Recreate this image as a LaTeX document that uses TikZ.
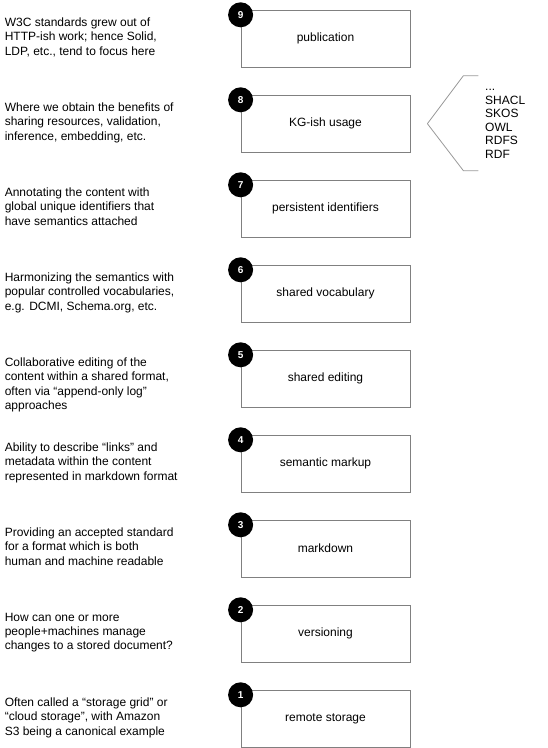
\documentclass[tikz,border=0pt]{standalone}
\usepackage{fontspec}
\setmainfont{Liberation Sans}
\usetikzlibrary{positioning}
\definecolor{boxgray}{HTML}{808080}
\definecolor{bracegray}{HTML}{999999}
\begin{document}
\begin{tikzpicture}[x=1pt, y=-1pt,
    stepbox/.style={draw=boxgray, line width=0.8pt, minimum width=169pt, minimum height=57pt, inner sep=0pt, font=\fontsize{12}{14}\selectfont},
    badge/.style={circle, fill=black, minimum size=25pt, inner sep=0pt, text=white, font=\fontsize{10}{12}\selectfont\bfseries},
    note/.style={anchor=north west, align=left, inner sep=0pt, font=\fontsize{12}{14.2}\selectfont}]
    \useasboundingbox (0,0) rectangle (547,748);
    % the stack of steps
    \node [stepbox] (pub) at (325.5,38.7) {publication};
    \node [stepbox, below=27.2pt of pub] (kg) {KG-ish usage};
    \node [stepbox, below=27.2pt of kg] (pid) {persistent identifiers};
    \node [stepbox, below=27.2pt of pid] (vocab) {shared vocabulary};
    \node [stepbox, below=27.2pt of vocab] (edit) {shared editing};
    \node [stepbox, below=27.2pt of edit] (markup) {semantic markup};
    \node [stepbox, below=27.2pt of markup] (md) {markdown};
    \node [stepbox, below=27.2pt of md] (vers) {versioning};
    \node [stepbox, below=27.2pt of vers] (store) {remote storage};
    % numbers
    \node [badge] (n9) at ([yshift=-5pt]pub.north west) {9};
    \node [badge] (n8) at ([yshift=-5pt]kg.north west) {8};
    \node [badge] (n7) at ([yshift=-5pt]pid.north west) {7};
    \node [badge] (n6) at ([yshift=-5pt]vocab.north west) {6};
    \node [badge] (n5) at ([yshift=-5pt]edit.north west) {5};
    \node [badge] (n4) at ([yshift=-5pt]markup.north west) {4};
    \node [badge] (n3) at ([yshift=-5pt]md.north west) {3};
    \node [badge] (n2) at ([yshift=-5pt]vers.north west) {2};
    \node [badge] (n1) at ([yshift=-5pt]store.north west) {1};
    % descriptions
    \node [note] (t9) at ([xshift=-236pt, yshift=-7.9pt]pub.north west) {W3C standards grew out of\\HTTP-ish work; hence Solid,\\LDP, etc., tend to focus here};
    \node [note] (t8) at ([xshift=-236pt, yshift=-7.9pt]kg.north west) {Where we obtain the benefits of\\sharing resources, validation,\\inference, embedding, etc.};
    \node [note] (t7) at ([xshift=-236pt, yshift=-7.9pt]pid.north west) {Annotating the content with\\global unique identifiers that\\have semantics attached};
    \node [note] (t6) at ([xshift=-236pt, yshift=-7.9pt]vocab.north west) {Harmonizing the semantics with\\popular controlled vocabularies,\\e.g. DCMI, Schema.org, etc.};
    \node [note] (t5) at ([xshift=-236pt, yshift=-7.9pt]edit.north west) {Collaborative editing of the\\content within a shared format,\\often via “append-only log”\\approaches};
    \node [note] (t4) at ([xshift=-236pt, yshift=-7.9pt]markup.north west) {Ability to describe “links” and\\metadata within the content\\represented in markdown format};
    \node [note] (t3) at ([xshift=-236pt, yshift=-7.9pt]md.north west) {Providing an accepted standard\\for a format which is both\\human and machine readable};
    \node [note] (t2) at ([xshift=-236pt, yshift=-7.9pt]vers.north west) {How can one or more\\people+machines manage\\changes to a stored document?};
    \node [note] (t1) at ([xshift=-236pt, yshift=-7.9pt]store.north west) {Often called a “storage grid” or\\“cloud storage”, with Amazon\\S3 being a canonical example};
    % the KG stack
    \node [note, font=\fontsize{12}{13.5}\selectfont] (kgstack) at (485,82.1) {\vphantom{S}...\\SHACL\\SKOS\\OWL\\RDFS\\RDF};
    \coordinate (tip) at ([xshift=17pt]kg.east);
    \draw [bracegray, line width=0.8pt] (tip) -- ++(36,-48) -- ++(15,0);
    \draw [bracegray, line width=0.8pt] (tip) -- ++(36,47) -- ++(15,0);
\end{tikzpicture}
\end{document}
